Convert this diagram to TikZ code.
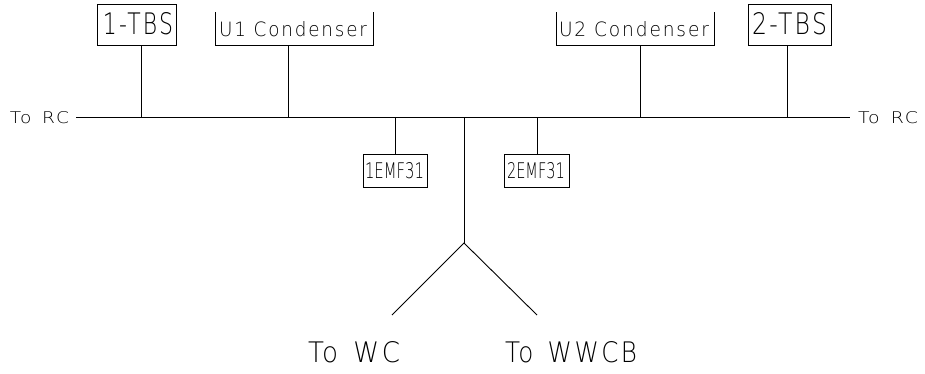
\documentclass[tikz,border=0pt]{standalone}
\usepackage{fontspec}
\setmainfont{DejaVu Sans ExtraLight}[LetterSpace=10]
\usepackage{graphicx}
\begin{document}
\begin{tikzpicture}[x=1pt,y=-1pt,line width=0.9pt,
  lbl/.style={inner sep=0pt,outer sep=0pt},
  box/.style={draw,inner sep=0pt,outer sep=0pt},
  wire/.style={line width=0.9pt}]
\useasboundingbox (0,0) rectangle (925,373);
% text helper: fixed glyph extents
\newcommand{\fitt}[3]{\resizebox{#1pt}{#2pt}{#3}}
% main bus endpoints
\coordinate (L) at (76,117);
\coordinate (R) at (850,117);
\draw[wire] (L) -- (R);
\node[lbl,anchor=east] (rcl) at (69,117.5) {\fitt{59}{12}{To\ \,RC}};
\node[lbl,anchor=west] (rcr) at (858,117.5) {\fitt{60}{12}{To\ \,RC}};
% 1-TBS
\node[box,minimum width=79pt,minimum height=41pt] (tbs1) at (137,24.5) {};
\node[lbl] (tbs1t) at (138,24) {\fitt{70}{22}{1-TBS}};
\coordinate (j1) at (141,117);
\draw[wire] (tbs1.south -| j1) -- (j1);
% U1 Condenser (open top)
\coordinate (u1a) at (215,12);
\coordinate (u1b) at (215,45);
\coordinate (u1c) at (373,45);
\coordinate (u1d) at (373,12);
\draw[wire] (u1a) -- (u1b) -- (u1c) -- (u1d);
\node[lbl] (u1t) at (293,29.5) {\fitt{148}{15}{U1 Condenser}};
\coordinate (j2t) at (288,45);
\coordinate (j2) at (288,117);
\draw[wire] (j2t) -- (j2);
% U2 Condenser (open top)
\coordinate (u2a) at (556,12);
\coordinate (u2b) at (556,45);
\coordinate (u2c) at (714,45);
\coordinate (u2d) at (714,12);
\draw[wire] (u2a) -- (u2b) -- (u2c) -- (u2d);
\node[lbl] (u2t) at (634,29.5) {\fitt{150}{15}{U2 Condenser}};
\coordinate (j5t) at (640,45);
\coordinate (j5) at (640,117);
\draw[wire] (j5t) -- (j5);
% 2-TBS
\node[box,minimum width=83pt,minimum height=41pt] (tbs2) at (789.5,24.5) {};
\node[lbl] (tbs2t) at (789.5,24) {\fitt{75}{22}{2-TBS}};
\coordinate (j6) at (787,117);
\draw[wire] (tbs2.south -| j6) -- (j6);
% 1EMF31
\node[box,minimum width=64pt,minimum height=33pt] (emf1) at (395,170.5) {};
\node[lbl] (emf1t) at (394.5,171) {\fitt{59}{16}{\addfontfeatures{LetterSpace=0}1EMF31}};
\coordinate (j3) at (395,117);
\draw[wire] (j3) -- (emf1.north -| j3);
% 2EMF31
\node[box,minimum width=65pt,minimum height=33pt] (emf2) at (536.5,170.5) {};
\node[lbl] (emf2t) at (536,171) {\fitt{58}{16}{\addfontfeatures{LetterSpace=0}2EMF31}};
\coordinate (j4) at (537,117);
\draw[wire] (j4) -- (emf2.north -| j4);
% center drop and branches
\coordinate (c0) at (464,117);
\coordinate (apex) at (464,243);
\coordinate (bl) at (392,315);
\coordinate (br) at (537,315);
\draw[wire] (c0) -- (apex);
\draw[wire] (bl) -- (apex) -- (br);
\node[lbl] (wc) at (354,352.5) {\fitt{92}{21}{To\ \,WC}};
\node[lbl] (wwcb) at (571,352.5) {\fitt{132}{21}{To\ \,WWCB}};
\end{tikzpicture}
\end{document}
